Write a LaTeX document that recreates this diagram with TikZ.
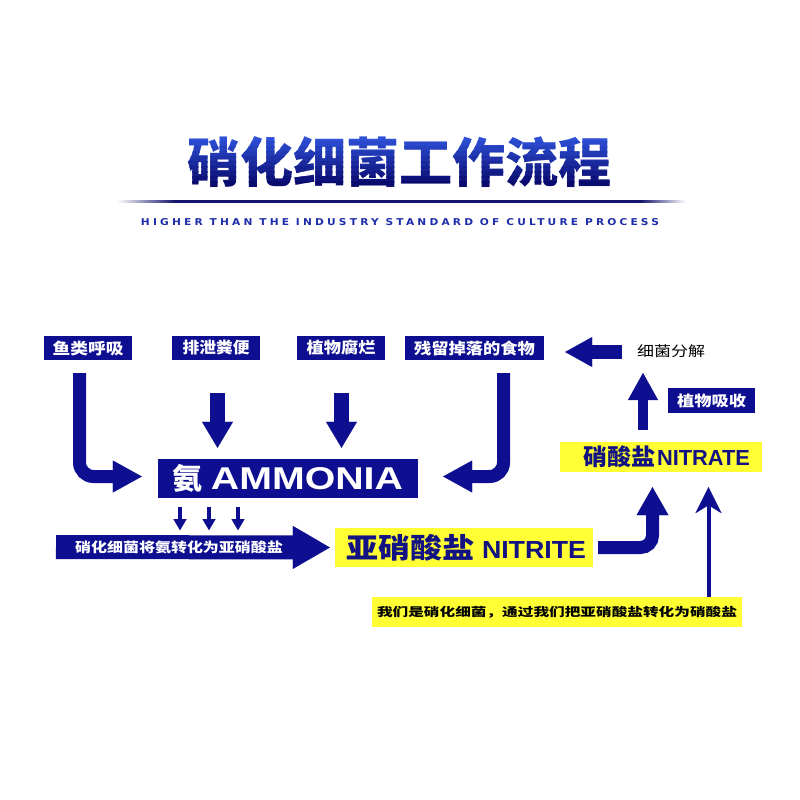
\documentclass[tikz,border=0pt]{standalone}
\usepackage{fontspec}
\usepackage{graphicx}
\usetikzlibrary{arrows.meta}
\setmainfont{Liberation Sans}
\newfontfamily\cjk{Noto Sans CJK SC}
\newfontfamily\subf[LetterSpace=30]{DejaVu Sans}
\definecolor{navy}{RGB}{14,14,145}
\definecolor{ylw}{RGB}{255,255,51}
\definecolor{tnavy}{RGB}{18,18,130}
\definecolor{subblue}{RGB}{30,45,170}
\definecolor{ttop}{RGB}{45,80,215}
\definecolor{tbot}{RGB}{10,10,110}
\definecolor{linenavy}{RGB}{20,20,110}
\newcommand{\fitbox}[3]{\resizebox*{#1}{#2}{#3}}
\newcommand{\capbox}[3]{\resizebox{#1}{#2}{#3}}
\begin{document}
\begin{tikzpicture}[x=1pt,y=-1pt,
  navybox/.style={fill=navy, inner sep=0pt, text=white},
  ybox/.style={fill=ylw, inner sep=0pt},
  bigarr/.style={draw=navy, line width=13pt, rounded corners=14pt,
    -{Triangle[width=32pt,length=29pt,line width=0.01pt]}},
  downarr/.style={draw=navy, line width=15pt,
    -{Triangle[width=31pt,length=26pt,line width=0.01pt]}},
  smallarr/.style={draw=navy, line width=4pt,
    -{Triangle[width=13pt,length=11pt,line width=0.01pt]}},
  uparr/.style={draw=navy, line width=10pt,
    -{Triangle[width=30pt,length=27pt,line width=0.01pt]}},
  leftarr/.style={draw=navy, line width=14pt,
    -{Triangle[width=30pt,length=27pt,line width=0.01pt]}},
  thinarr/.style={draw=navy, line width=4pt,
    -{Stealth[width=26pt,length=26pt,inset=8pt,line width=0.01pt]}},
  convarr/.style={draw=navy, line width=24pt,
    -{Triangle[width=43pt,length=37pt,line width=0.01pt]}}
]
\useasboundingbox (0,0) rectangle (800,800);
\fill[white] (0,0) rectangle (800,800);

% title with vertical gradient
\foreach \i in {0,...,9}{
  \pgfmathsetmacro\pc{\i*11}
  \pgfmathsetmacro\ya{ifthenelse(\i==0,120,137+\i*5-0.4)}
  \pgfmathsetmacro\yb{ifthenelse(\i==9,200,142+\i*5+0.4)}
  \begin{scope}
    \clip (150,\ya) rectangle (650,\yb);
    \node[inner sep=0pt, text=tbot!\pc!ttop] (title\i) at (399.5,162)
      {\fitbox{425pt}{51pt}{\cjk\bfseries 硝化细菌工作流程}};
  \end{scope}
}

% title rule
\shade[left color=white, right color=linenavy] (117,200) rectangle (175,202.5);
\fill[linenavy] (175,199.5) rectangle (640,202.5);
\shade[left color=linenavy, right color=white] (640,200) rectangle (686,202.5);

% subtitle
\node[inner sep=0pt, text=subblue] (sub) at (400,222.5)
  {\capbox{518pt}{7pt}{\subf\bfseries HIGHER THAN THE INDUSTRY STANDARD OF CULTURE PROCESS}};

% top row boxes
\node[navybox, minimum width=88pt, minimum height=24pt] (b1) at (88,348)
  {\fitbox{71pt}{15pt}{\cjk\bfseries 鱼类呼吸}};
\node[navybox, minimum width=88pt, minimum height=24pt] (b2) at (216,348)
  {\fitbox{67pt}{15pt}{\cjk\bfseries 排泄粪便}};
\node[navybox, minimum width=88pt, minimum height=24pt] (b3) at (341,348)
  {\fitbox{69pt}{15pt}{\cjk\bfseries 植物腐烂}};
\node[navybox, minimum width=139pt, minimum height=24pt] (b4) at (474.5,348)
  {\fitbox{121pt}{15pt}{\cjk\bfseries 残留掉落的食物}};

% ammonia
\node[navybox, minimum width=260pt, minimum height=39pt] (amm) at (288,478.5)
  {\fitbox{30pt}{28pt}{\cjk\bfseries 氨}\hspace{8pt}\capbox{192pt}{22pt}{\bfseries AMMONIA}};

% arrows into ammonia
\draw[bigarr] ([xshift=-8.5pt,yshift=-13pt]b1.south) |- ([xshift=-16pt,yshift=2pt]amm.west);
\draw[bigarr] ([xshift=29pt,yshift=-13pt]b4.south) |- ([xshift=25pt,yshift=2pt]amm.east);
\draw[downarr] ([xshift=1.5pt,yshift=-33pt]b2.south) -- ([xshift=-70.5pt,yshift=11pt]amm.north);
\draw[downarr] ([xshift=0.5pt,yshift=-33pt]b3.south) -- ([xshift=53.5pt,yshift=11pt]amm.north);

% nitrite
\node[ybox, minimum width=258pt, minimum height=39pt, text=tnavy] (nit) at (464,547.5)
  {\hspace*{5pt}\fitbox{128pt}{27pt}{\cjk\bfseries 亚硝酸盐}\hspace{7pt}\capbox{104pt}{17pt}{\bfseries NITRITE}};

% conversion arrow
\coordinate (convtail) at (56,547);
\draw[convarr] (convtail) -- ([xshift=-5pt]nit.west);
\node[inner sep=0pt, text=white] (convtxt) at (179,547)
  {\fitbox{208pt}{13pt}{\cjk\bfseries 硝化细菌将氨转化为亚硝酸盐}};

% small arrows
\draw[smallarr] ([xshift=-108pt,yshift=-9pt]amm.south) -- ++(0,23);
\draw[smallarr] ([xshift=-79pt,yshift=-9pt]amm.south) -- ++(0,23);
\draw[smallarr] ([xshift=-50pt,yshift=-9pt]amm.south) -- ++(0,23);

% nitrate
\node[ybox, minimum width=202pt, minimum height=30pt, text=tnavy] (nta) at (661,457)
  {\hspace*{11pt}\fitbox{72pt}{22pt}{\cjk\bfseries 硝酸盐}\hspace{2pt}\capbox{93pt}{15pt}{\bfseries NITRATE}};

% nitrite -> nitrate
\draw[bigarr, rounded corners=12pt, -{Triangle[width=32pt,length=28pt,line width=0.01pt]}]
  ([xshift=5pt]nit.east) -| ([xshift=-8.5pt,yshift=-15pt]nta.south);

% note
\node[ybox, minimum width=370pt, minimum height=30pt, text=black] (note) at (557,612)
  {\fitbox{360pt}{12pt}{\cjk\bfseries 我们是硝化细菌，通过我们把亚硝酸盐转化为硝酸盐}};
\draw[thinarr] ([xshift=151.5pt]note.north) -- ([xshift=47.5pt,yshift=-15pt]nta.south);

% plant uptake / decomposition
\node[navybox, minimum width=87pt, minimum height=25pt] (plant) at (711.5,400.5)
  {\fitbox{69pt}{14pt}{\cjk\bfseries 植物吸收}};
\coordinate (uptip) at (643,373);
\draw[uparr] ([xshift=-18pt,yshift=12pt]nta.north) -- (uptip);
\node[inner sep=0pt, text=black] (sf) at (671,351)
  {\fitbox{68pt}{13pt}{\cjk 细菌分解}};
\draw[leftarr] ([xshift=-15pt,yshift=-1pt]sf.west) -- ([xshift=21pt,yshift=-1pt]b4.east |- sf.west);
\end{tikzpicture}
\end{document}
